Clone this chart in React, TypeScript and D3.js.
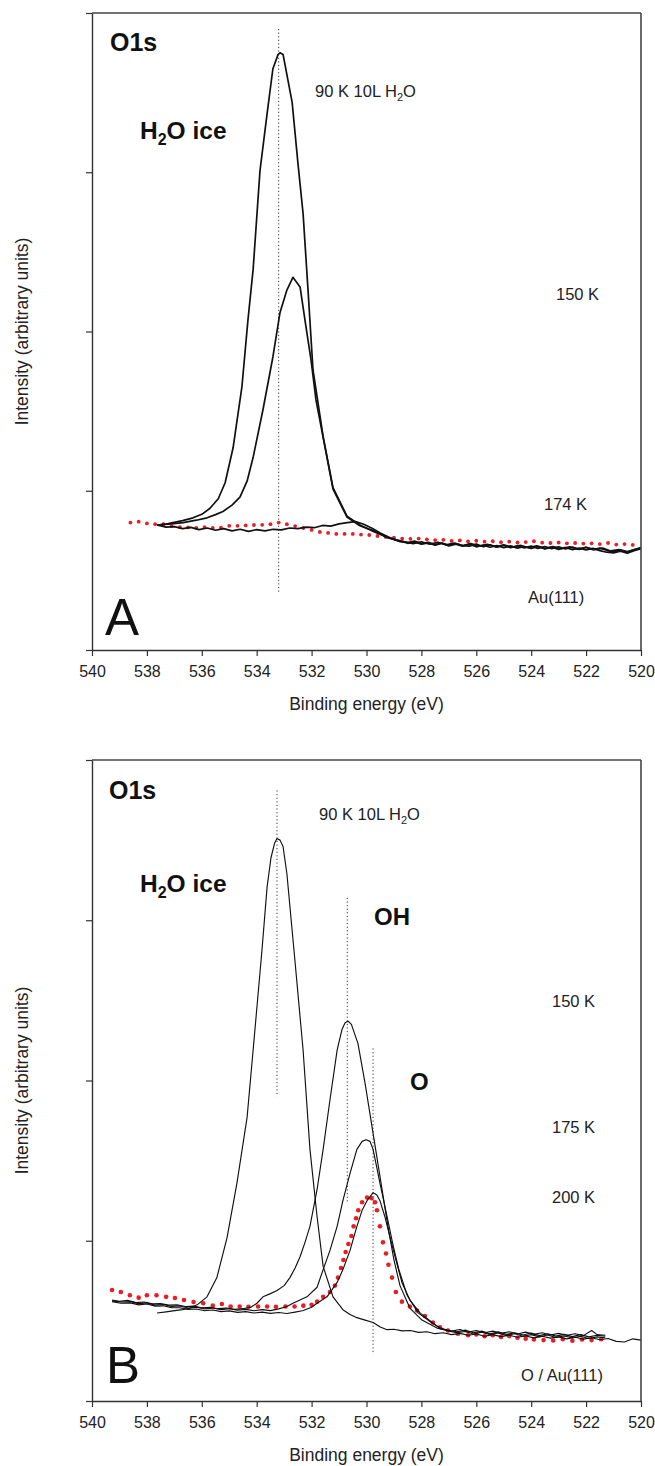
import React, { useEffect, useRef } from 'react';
import * as d3 from 'd3';

type Pt = [number, number];

// axes
const xTicks = [540, 538, 536, 534, 532, 530, 528, 526, 524, 522, 520];
const yTicks = [0, 1, 2, 3, 4];

// Panel A - O1s, H2O on Au(111), [binding energy eV, intensity a.u.]
const a90K: Pt[] = [
  [537.63, 0.785], [537.3, 0.79], [537.05, 0.8], [536.7, 0.812], [536.32, 0.83], [536.0, 0.852],
  [535.7, 0.89], [535.4, 0.95], [535.15, 1.05], [534.86, 1.27], [534.54, 1.65], [534.32, 2.07],
  [534.13, 2.39], [533.88, 3.01], [533.62, 3.37], [533.41, 3.65], [533.22, 3.74], [533.15, 3.75],
  [533.04, 3.74], [532.71, 3.44], [532.5, 3.06], [532.31, 2.74], [532.13, 2.26], [531.95, 1.76],
  [531.58, 1.34], [531.22, 1.02], [530.71, 0.84], [530.24, 0.785], [529.69, 0.74], [529.25, 0.71],
  [528.78, 0.68], [528.5, 0.675], [528.25, 0.684], [528.0, 0.668], [527.75, 0.676], [527.5, 0.662],
  [527.25, 0.672], [527.0, 0.658], [526.75, 0.668], [526.5, 0.656], [526.25, 0.652], [526.0, 0.666],
  [525.75, 0.648], [525.5, 0.66], [525.25, 0.646], [525.0, 0.656], [524.75, 0.642], [524.5, 0.655],
  [524.25, 0.641], [524.0, 0.652], [523.75, 0.638], [523.5, 0.65], [523.25, 0.636], [523.0, 0.648],
  [522.75, 0.634], [522.5, 0.646], [522.25, 0.632], [522.0, 0.644], [521.75, 0.63], [521.5, 0.64],
  [521.25, 0.626], [521.0, 0.616], [520.75, 0.628], [520.5, 0.614], [520.25, 0.63], [520.0, 0.64],
];

const a150K: Pt[] = [
  [537.63, 0.785], [537.2, 0.79], [536.68, 0.8], [536.2, 0.815], [535.81, 0.83], [535.5, 0.85],
  [535.23, 0.87], [534.9, 0.91], [534.61, 0.96], [534.35, 1.06], [534.13, 1.21], [533.77, 1.51],
  [533.41, 1.84], [533.15, 2.12], [532.9, 2.26], [532.68, 2.34], [532.42, 2.28], [532.24, 2.07],
  [532.02, 1.82], [531.84, 1.57], [531.58, 1.335], [531.22, 1.01], [530.71, 0.835], [530.24, 0.78],
  [529.69, 0.745], [529.25, 0.705], [528.78, 0.685], [528.5, 0.67], [528.25, 0.678], [528.0, 0.664],
  [527.75, 0.672], [527.5, 0.658], [527.25, 0.67], [527.0, 0.654], [526.75, 0.664], [526.5, 0.652],
  [526.25, 0.664], [526.0, 0.648], [525.75, 0.658], [525.5, 0.645], [525.25, 0.656], [525.0, 0.642],
  [524.75, 0.654], [524.5, 0.64], [524.25, 0.65], [524.0, 0.637], [523.75, 0.65], [523.5, 0.634],
  [523.25, 0.646], [523.0, 0.632], [522.75, 0.644], [522.5, 0.63], [522.25, 0.64], [522.0, 0.628],
  [521.75, 0.638], [521.5, 0.624], [521.25, 0.614], [521.0, 0.61], [520.75, 0.62], [520.5, 0.608],
  [520.25, 0.624], [520.0, 0.636],
];

const a174K: Pt[] = [
  [537.63, 0.785], [537.3, 0.772], [537.0, 0.775], [536.7, 0.762], [536.4, 0.77], [536.1, 0.756],
  [535.8, 0.766], [535.5, 0.752], [535.2, 0.762], [534.9, 0.748], [534.6, 0.758], [534.3, 0.745],
  [534.0, 0.756], [533.7, 0.748], [533.4, 0.758], [533.1, 0.754], [532.8, 0.766], [532.5, 0.762],
  [532.2, 0.772], [531.9, 0.768], [531.6, 0.782], [531.3, 0.778], [531.0, 0.792], [530.7, 0.8],
  [530.4, 0.806], [530.1, 0.79], [529.8, 0.765], [529.5, 0.735], [529.2, 0.71], [528.9, 0.69],
  [528.6, 0.68], [528.3, 0.668], [528.0, 0.68], [527.7, 0.664], [527.4, 0.676], [527.1, 0.66],
  [526.8, 0.672], [526.5, 0.656], [526.2, 0.668], [525.9, 0.652], [525.6, 0.664], [525.3, 0.648],
  [525.0, 0.66], [524.7, 0.645], [524.4, 0.657], [524.1, 0.642], [523.8, 0.654], [523.5, 0.638],
  [523.2, 0.65], [522.9, 0.636], [522.6, 0.648], [522.3, 0.633], [522.0, 0.645], [521.7, 0.63],
  [521.4, 0.64], [521.1, 0.622], [520.8, 0.63], [520.5, 0.618], [520.2, 0.632], [520.0, 0.644],
];

const aAu: Pt[] = [
  [538.6, 0.8], [538.3, 0.806], [538.0, 0.795], [537.7, 0.79], [537.4, 0.79], [537.1, 0.778],
  [536.8, 0.772], [536.5, 0.77], [536.2, 0.767], [535.9, 0.772], [535.6, 0.766], [535.3, 0.768],
  [535.0, 0.78], [534.7, 0.78], [534.4, 0.782], [534.1, 0.785], [533.8, 0.786], [533.5, 0.79],
  [533.2, 0.8], [532.9, 0.79], [532.6, 0.778], [532.3, 0.766], [532.0, 0.754], [531.7, 0.741],
  [531.4, 0.735], [531.1, 0.729], [530.8, 0.729], [530.5, 0.729], [530.2, 0.725], [529.9, 0.722],
  [529.6, 0.716], [529.3, 0.71], [529.0, 0.705], [528.7, 0.7], [528.4, 0.698], [528.1, 0.7],
  [527.8, 0.695], [527.5, 0.69], [527.2, 0.692], [526.9, 0.685], [526.6, 0.688], [526.3, 0.682],
  [526.0, 0.686], [525.7, 0.68], [525.4, 0.683], [525.1, 0.677], [524.8, 0.68], [524.5, 0.675],
  [524.2, 0.678], [523.9, 0.683], [523.6, 0.674], [523.3, 0.672], [523.0, 0.675], [522.7, 0.67],
  [522.4, 0.672], [522.1, 0.668], [521.8, 0.67], [521.5, 0.665], [521.2, 0.672], [520.9, 0.662],
  [520.6, 0.665], [520.3, 0.66],
];

// Panel B - O1s, H2O on O/Au(111)
const b90K: Pt[] = [
  [537.63, 0.549], [537.3, 0.556], [537.05, 0.562], [536.7, 0.57], [536.43, 0.58], [536.17, 0.6],
  [535.81, 0.65], [535.45, 0.77], [535.08, 1.02], [534.72, 1.36], [534.35, 1.77], [534.13, 2.19],
  [533.81, 2.81], [533.62, 3.21], [533.48, 3.39], [533.35, 3.48], [533.26, 3.51], [533.15, 3.5],
  [533.04, 3.46], [532.9, 3.29], [532.64, 2.81], [532.31, 2.19], [532.06, 1.57], [531.8, 1.15],
  [531.58, 0.84], [531.22, 0.65], [530.86, 0.57], [530.6, 0.54], [530.35, 0.52], [530.05, 0.505],
  [529.76, 0.49], [529.5, 0.462], [529.25, 0.445], [529.0, 0.448], [528.7, 0.438], [528.4, 0.44],
  [528.1, 0.428], [527.8, 0.432], [527.5, 0.42], [527.2, 0.426], [526.9, 0.414], [526.6, 0.422],
  [526.3, 0.41], [526.0, 0.418], [525.7, 0.404], [525.4, 0.414], [525.1, 0.402], [524.8, 0.41],
  [524.5, 0.398], [524.2, 0.406], [523.9, 0.394], [523.6, 0.404], [523.3, 0.392], [523.0, 0.4],
  [522.7, 0.388], [522.4, 0.398], [522.1, 0.386], [521.8, 0.395], [521.5, 0.382], [521.2, 0.39],
  [520.9, 0.372], [520.6, 0.368], [520.3, 0.388], [520.0, 0.38],
];

const b150K: Pt[] = [
  [539.27, 0.63], [539.0, 0.622], [538.7, 0.628], [538.4, 0.614], [538.1, 0.618], [537.8, 0.606],
  [537.5, 0.608], [537.2, 0.598], [536.9, 0.6], [536.6, 0.59], [536.3, 0.592], [536.0, 0.582],
  [535.7, 0.585], [535.4, 0.576], [535.1, 0.58], [534.8, 0.572], [534.5, 0.576], [534.2, 0.586],
  [533.99, 0.61], [533.77, 0.65], [533.5, 0.67], [533.26, 0.69], [533.0, 0.72], [532.79, 0.77],
  [532.6, 0.83], [532.42, 0.9], [532.24, 0.99], [532.06, 1.09], [531.8, 1.32], [531.58, 1.57],
  [531.33, 1.88], [531.07, 2.19], [530.89, 2.32], [530.78, 2.36], [530.67, 2.37], [530.55, 2.35],
  [530.31, 2.23], [530.05, 1.98], [529.76, 1.67], [529.47, 1.36], [529.22, 1.09], [529.0, 0.88],
  [528.78, 0.72], [528.42, 0.58], [527.98, 0.505], [527.43, 0.455], [527.2, 0.448], [526.9, 0.436],
  [526.6, 0.446], [526.3, 0.43], [526.0, 0.44], [525.7, 0.426], [525.4, 0.436], [525.1, 0.422],
  [524.8, 0.432], [524.5, 0.418], [524.2, 0.43], [523.9, 0.416], [523.6, 0.426], [523.3, 0.412],
  [523.0, 0.422], [522.7, 0.41], [522.4, 0.42], [522.1, 0.408], [521.8, 0.44], [521.6, 0.414],
  [521.3, 0.41],
];

const b175K: Pt[] = [
  [539.27, 0.625], [538.95, 0.618], [538.6, 0.62], [538.3, 0.608], [538.0, 0.612], [537.7, 0.598],
  [537.4, 0.602], [537.1, 0.59], [536.8, 0.593], [536.5, 0.58], [536.2, 0.586], [535.9, 0.575],
  [535.6, 0.58], [535.3, 0.57], [535.0, 0.576], [534.7, 0.566], [534.4, 0.572], [534.1, 0.563],
  [533.8, 0.57], [533.5, 0.564], [533.2, 0.575], [532.9, 0.59], [532.68, 0.61], [532.17, 0.65],
  [531.8, 0.71], [531.58, 0.82], [531.33, 0.94], [531.07, 1.09], [530.86, 1.25], [530.6, 1.42],
  [530.35, 1.57], [530.16, 1.62], [530.02, 1.63], [529.87, 1.62], [529.76, 1.57], [529.51, 1.36],
  [529.25, 1.15], [529.03, 0.97], [528.82, 0.82], [528.52, 0.66], [528.12, 0.55], [527.61, 0.487],
  [527.3, 0.455], [527.0, 0.44], [526.7, 0.432], [526.4, 0.442], [526.1, 0.426], [525.8, 0.436],
  [525.5, 0.42], [525.2, 0.432], [524.9, 0.416], [524.6, 0.426], [524.3, 0.412], [524.0, 0.424],
  [523.7, 0.408], [523.4, 0.42], [523.1, 0.405], [522.8, 0.416], [522.5, 0.402], [522.2, 0.414],
  [521.9, 0.4], [521.6, 0.41], [521.3, 0.404],
];

const b200K: Pt[] = [
  [539.27, 0.62], [538.95, 0.61], [538.6, 0.612], [538.3, 0.6], [538.0, 0.605], [537.7, 0.592],
  [537.4, 0.594], [537.1, 0.583], [536.8, 0.582], [536.5, 0.572], [536.2, 0.574], [535.9, 0.563],
  [535.6, 0.568], [535.3, 0.558], [535.0, 0.562], [534.7, 0.553], [534.4, 0.558], [534.1, 0.549],
  [533.8, 0.555], [533.5, 0.547], [533.2, 0.552], [532.9, 0.546], [532.6, 0.555], [532.3, 0.565],
  [532.0, 0.585], [531.8, 0.61], [531.44, 0.65], [531.07, 0.74], [530.86, 0.82], [530.6, 0.94],
  [530.35, 1.09], [530.16, 1.19], [529.98, 1.25], [529.76, 1.3], [529.62, 1.285], [529.51, 1.25],
  [529.33, 1.15], [529.14, 1.02], [528.93, 0.88], [528.71, 0.74], [528.42, 0.63], [528.05, 0.55],
  [527.61, 0.49], [527.3, 0.45], [527.0, 0.435], [526.7, 0.426], [526.4, 0.434], [526.1, 0.418],
  [525.8, 0.43], [525.5, 0.414], [525.2, 0.424], [524.9, 0.408], [524.6, 0.42], [524.3, 0.404],
  [524.0, 0.414], [523.7, 0.4], [523.4, 0.412], [523.1, 0.396], [522.8, 0.406], [522.5, 0.394],
  [522.2, 0.404], [521.9, 0.39], [521.6, 0.4], [521.3, 0.395],
];

const bOAu: Pt[] = [
  [539.27, 0.693], [538.95, 0.68], [538.62, 0.66], [538.3, 0.645], [538.0, 0.66], [537.65, 0.66],
  [537.3, 0.65], [536.98, 0.643], [536.65, 0.63], [536.3, 0.618], [535.95, 0.61], [535.6, 0.595],
  [535.27, 0.605], [534.95, 0.59], [534.62, 0.59], [534.3, 0.588], [533.95, 0.59], [533.62, 0.59],
  [533.3, 0.588], [532.95, 0.59], [532.62, 0.59], [532.3, 0.595], [532.0, 0.6], [531.8, 0.62],
  [531.58, 0.65], [531.33, 0.68], [531.15, 0.72], [531.04, 0.77], [530.93, 0.83], [530.84, 0.88],
  [530.76, 0.93], [530.66, 0.98], [530.55, 1.03], [530.47, 1.09], [530.38, 1.14], [530.3, 1.19],
  [530.16, 1.24], [529.98, 1.27], [529.82, 1.265], [529.69, 1.24], [529.62, 1.19], [529.51, 1.09],
  [529.4, 0.99], [529.29, 0.92], [529.2, 0.85], [529.07, 0.77], [528.93, 0.68], [528.71, 0.62],
  [528.42, 0.59], [528.16, 0.565], [527.87, 0.53], [527.58, 0.49], [527.32, 0.46], [527.03, 0.44],
  [526.67, 0.42], [526.3, 0.41], [526.0, 0.415], [525.7, 0.404], [525.4, 0.41], [525.1, 0.4],
  [524.8, 0.405], [524.5, 0.395], [524.2, 0.388], [523.9, 0.384], [523.55, 0.38], [523.2, 0.378],
  [522.85, 0.385], [522.5, 0.376], [522.15, 0.384], [521.8, 0.38], [521.45, 0.386],
];

// vertical dotted guides: [energy, intensity] end points
const guidesA: Pt[][] = [[[533.2, 3.9], [533.2, 0.36]]];
const guidesB: Pt[][] = [
  [[533.26, 3.81], [533.26, 1.9]],
  [[530.7, 3.14], [530.7, 1.24]],
  [[529.76, 2.2], [529.76, 0.29]],
];

const W = 655;
const H = 1466;
const LEFT = 92;
const RIGHT = 641;
const FONT = 'Liberation Sans, Arial, Helvetica, sans-serif';

type PanelProps = {
  top: number;
  bottom: number;
  lines: Pt[][];
  dots: Pt[];
  guides: Pt[][];
  lineWidth: number;
  dotR: number;
  children?: React.ReactNode;
};

const Panel = ({ top, bottom, lines, dots, guides, lineWidth, dotR, children }: PanelProps) => {
  const axisRef = useRef<SVGGElement>(null);
  const x = d3.scaleLinear().domain([540, 520]).range([LEFT, RIGHT]);
  const y = d3.scaleLinear().domain([0, 4]).range([bottom, top]);
  const line = d3.line<Pt>().x(d => x(d[0])).y(d => y(d[1]));

  useEffect(() => {
    if (!axisRef.current) return;
    const g = d3.select(axisRef.current);
    g.selectAll('*').remove();

    const xa = g.append('g')
      .attr('transform', `translate(0,${bottom})`)
      .call(d3.axisBottom(x).tickValues(xTicks).tickSize(6).tickSizeOuter(0).tickPadding(10).tickFormat(d3.format('d')));
    xa.selectAll('text').attr('font-size', 16).attr('fill', '#222').attr('font-family', FONT);

    g.append('g')
      .attr('transform', `translate(${LEFT},0)`)
      .call(d3.axisLeft(y).tickValues(yTicks).tickSize(6).tickSizeOuter(0).tickFormat(() => ''));

    g.selectAll('.domain').attr('stroke', '#333').attr('stroke-width', 1.4);
    g.selectAll('.tick line').attr('stroke', '#333').attr('stroke-width', 1.2);

    // top and right frame
    g.append('line').attr('x1', LEFT).attr('x2', RIGHT).attr('y1', y(4)).attr('y2', y(4))
      .attr('stroke', '#444').attr('stroke-width', 1.6);
    g.append('line').attr('x1', RIGHT).attr('x2', RIGHT).attr('y1', y(4)).attr('y2', y(0))
      .attr('stroke', '#444').attr('stroke-width', 1.6);
  }, [top, bottom]);

  return (
    <g>
      {guides.map((gd, i) => (
        <path key={`g${i}`} d={line(gd) ?? ''} stroke="#333" strokeWidth={1} strokeDasharray="1.2,2.4" fill="none" />
      ))}
      {dots.map((d, i) => (
        <circle key={`d${i}`} cx={x(d[0])} cy={y(d[1])} r={dotR} fill="#ec1c24" />
      ))}
      {lines.map((l, i) => (
        <path key={`l${i}`} d={line(l) ?? ''} stroke="#111" strokeWidth={lineWidth} fill="none" strokeLinejoin="round" />
      ))}
      <g ref={axisRef} />
      <text x={(LEFT + RIGHT) / 2} y={bottom + 60} textAnchor="middle" fontSize={17.5} fill="#222">Binding energy (eV)</text>
      <text transform={`translate(28,${(top + bottom) / 2}) rotate(-90)`} textAnchor="middle" fontSize={17.5} fill="#222">
        Intensity (arbitrary units)
      </text>
      {children}
    </g>
  );
};

const App = () => {
  return (
    <div style={{ position: 'absolute', left: 0, top: 0, background: '#fff' }}>
      <svg width={W} height={H} viewBox={`0 0 ${W} ${H}`} style={{ display: 'block', fontFamily: FONT }}>
        <rect width={W} height={H} fill="#fff" />
        <Panel top={13} bottom={650} lines={[a90K, a150K, a174K]} dots={aAu} guides={guidesA} lineWidth={1.7} dotR={1.9}>
          <text x={110} y={51} fontSize={25} fontWeight="bold" fill="#111">O1s</text>
          <text x={315} y={97} fontSize={16.5} fill="#222">
            90 K 10L H<tspan dy={4} fontSize={11}>2</tspan><tspan dy={-4}>O</tspan>
          </text>
          <text x={140} y={139} fontSize={24.5} fontWeight="bold" fill="#111">
            H<tspan dy={6} fontSize={16}>2</tspan><tspan dy={-6}>O ice</tspan>
          </text>
          <text x={556} y={300} fontSize={16.5} fill="#222">150 K</text>
          <text x={544} y={510} fontSize={16.5} fill="#222">174 K</text>
          <text x={528} y={603} fontSize={16.5} fill="#222">Au(111)</text>
          <text x={105} y={635} fontSize={51} fill="#111">A</text>
        </Panel>
        <Panel top={760} bottom={1401} lines={[b90K, b150K, b175K, b200K]} dots={bOAu} guides={guidesB} lineWidth={1.15} dotR={2.3}>
          <text x={109} y={799} fontSize={25} fontWeight="bold" fill="#111">O1s</text>
          <text x={319} y={820} fontSize={16.5} fill="#222">
            90 K 10L H<tspan dy={4} fontSize={11}>2</tspan><tspan dy={-4}>O</tspan>
          </text>
          <text x={140} y={892} fontSize={24.5} fontWeight="bold" fill="#111">
            H<tspan dy={6} fontSize={16}>2</tspan><tspan dy={-6}>O ice</tspan>
          </text>
          <text x={374} y={925} fontSize={24} fontWeight="bold" fill="#111">OH</text>
          <text x={410} y={1090} fontSize={24} fontWeight="bold" fill="#111">O</text>
          <text x={552} y={1007} fontSize={16.5} fill="#222">150 K</text>
          <text x={552} y={1133} fontSize={16.5} fill="#222">175 K</text>
          <text x={552} y={1203} fontSize={16.5} fill="#222">200 K</text>
          <text x={521} y={1381} fontSize={16.5} fill="#222">O / Au(111)</text>
          <text x={106} y={1383} fontSize={51} fill="#111">B</text>
        </Panel>
      </svg>
    </div>
  );
};

export default App;
